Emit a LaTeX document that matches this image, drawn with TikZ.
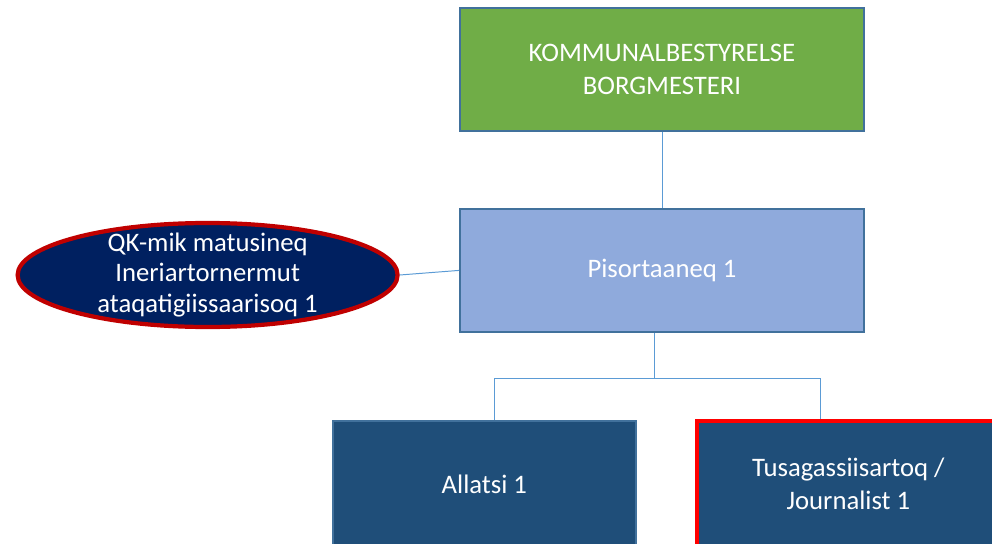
\documentclass[tikz,border=0pt]{standalone}
\usepackage{fontspec}
\setmainfont{Carlito}
\usepackage{xcolor}
\usetikzlibrary{positioning, calc, shapes.geometric}
\definecolor{boxborder}{RGB}{65,113,156}
\definecolor{topgreen}{RGB}{112,173,71}
\definecolor{headblue}{RGB}{143,170,220}
\definecolor{staffblue}{RGB}{31,78,121}
\definecolor{linkblue}{RGB}{91,155,213}
\definecolor{navy}{RGB}{0,32,96}
\definecolor{darkred}{RGB}{192,0,0}

\begin{document}
\begin{tikzpicture}
	\tikzstyle{orgbox}=[rectangle, draw=boxborder, line width=1.2pt, text=white, align=center, font=\fontsize{19}{23.5}\selectfont]
	\tikzstyle{link}=[draw=linkblue, line width=0.7pt]

	\useasboundingbox (0cm, 0cm) rectangle (24.8cm, -13.6cm);
	\clip (0cm, 0cm) rectangle (24.8cm, -13.6cm);

	\node[orgbox, fill=topgreen, minimum width=10.1cm, minimum height=3.075cm] (board) at (16.55cm, -1.74cm) {KOMMUNALBESTYRELSE\\BORGMESTERI};
	\node[orgbox, fill=headblue, minimum width=10.1cm, minimum height=3.075cm] (head) at (16.55cm, -6.76cm) {Pisortaaneq 1};

	\node[ellipse, draw=darkred, line width=3pt, fill=navy, minimum width=9.5cm, minimum height=2.6cm, inner sep=0pt,
		label={[text=white, align=center, font=\fontsize{19}{22}\selectfont]center:QK-mik matusineq\\Ineriartornermut\\ataqatigiissaarisoq 1}] (quality) at (5.19cm, -6.875cm) {};

	\node[orgbox, fill=staffblue, minimum width=7.575cm, minimum height=3.15cm] (secretary) at (12.11cm, -12.1cm) {Allatsi 1};
	\node[orgbox, fill=staffblue, draw=red, line width=3pt, minimum width=7.575cm, minimum height=3.15cm] (journalist) at (21.21cm, -12.1cm) {Tusagassiisartoq /\\Journalist 1};

	\coordinate (fork) at (16.35cm, -9.45cm);
	\coordinate (fork-left) at (12.35cm, -9.45cm);
	\coordinate (fork-right) at (20.5cm, -9.45cm);

	\draw[link] (board) -- (head);
	\draw[link] (quality.east) -- (head.west);
	\draw[link] (head.south -| fork) -- (fork);
	\draw[link] (fork-left) -- (fork-right);
	\draw[link] (fork-left) -- (fork-left |- secretary.north);
	\draw[link] (fork-right) -- (fork-right |- journalist.north);
\end{tikzpicture}
\end{document}
